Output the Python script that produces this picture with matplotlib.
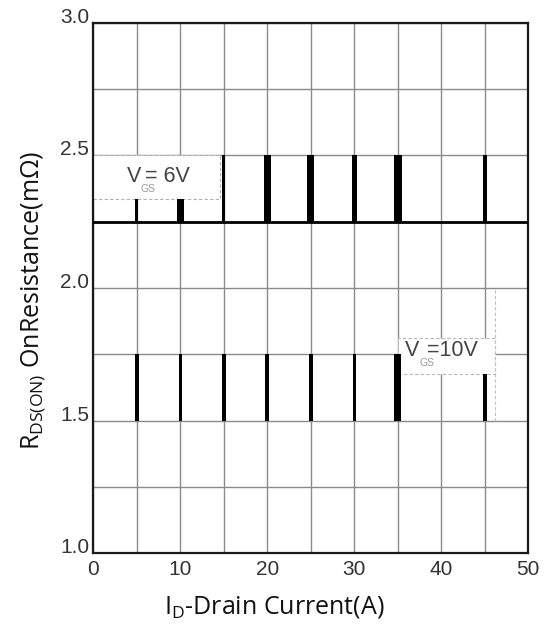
import matplotlib
matplotlib.use("Agg")
import matplotlib.pyplot as plt
from matplotlib.ticker import MultipleLocator, FixedLocator
from matplotlib.patches import Rectangle
import numpy as np

plt.rcParams['mathtext.fontset'] = 'custom'
plt.rcParams['mathtext.rm'] = 'Open Sans'
plt.rcParams['mathtext.it'] = 'Open Sans'

# ---------------- data ----------------
drain_current = [5, 10, 15, 20, 25, 30, 35, 45]          # A
r_vgs6_top = [2.335, 2.335, 2.5, 2.5, 2.5, 2.5, 2.5, 2.5]  # mOhm
r_vgs6_base = 2.25
r_vgs10_top = [1.75, 1.75, 1.75, 1.75, 1.75, 1.75, 1.75, 1.675]
r_vgs10_base = 1.5
x_tick_values = [0, 10, 20, 30, 40, 50]
x_tick_labels = ["0", "10", "20", "30", "40", "50"]
y_tick_values = [1.0, 1.5, 2.0, 2.5, 3.0]
y_tick_labels = ["1.0", "1.5", "2.0", "2.5", "3.0"]

# styles (bar thickness in data units)
w_vgs6 = [0.38, 0.85, 0.38, 0.87, 0.84, 0.64, 0.92, 0.42]
w_vgs10 = [0.45, 0.4, 0.4, 0.45, 0.42, 0.4, 0.84, 0.42]

W, H = 547, 625
fig = plt.figure(figsize=(W / 100, H / 100), dpi=100)
L, R, T, B = 93.3, 528.3, 22.7, 553.3
ax = fig.add_axes([L / W, 1 - B / H, (R - L) / W, (B - T) / H])

ax.set_xlim(0, 50)
ax.set_ylim(1.0, 3.0)
ax.xaxis.set_major_locator(FixedLocator(x_tick_values))
ax.set_xticklabels(x_tick_labels)
ax.xaxis.set_minor_locator(MultipleLocator(5))
ax.yaxis.set_major_locator(FixedLocator(y_tick_values))
ax.set_yticklabels(y_tick_labels)
ax.yaxis.set_minor_locator(MultipleLocator(0.25))
ax.set_axisbelow(True)
ax.grid(True, which='both', color='#8a8a8a', lw=1.0)
ax.tick_params(which='both', length=0)
ax.tick_params(axis='x', pad=4.5, labelsize=15, labelcolor='#333333')
ax.tick_params(axis='y', pad=3, labelsize=15, labelcolor='#333333')
for lbl in ax.get_xticklabels() + ax.get_yticklabels():
    lbl.set_fontfamily('Liberation Sans')
for t in ax.yaxis.get_major_ticks():
    t.label1.set_verticalalignment('baseline')

for s in ax.spines.values():
    s.set_color('#1a1a1a')
    s.set_linewidth(1.6)

# V_GS = 6V series
ax.bar(drain_current, np.array(r_vgs6_top) - r_vgs6_base, bottom=r_vgs6_base,
       width=w_vgs6, color='black', zorder=3)
ax.axhline(r_vgs6_base, color='black', lw=2.0, zorder=3)
# V_GS = 10V series
ax.bar(drain_current, np.array(r_vgs10_top) - r_vgs10_base, bottom=r_vgs10_base,
       width=w_vgs10, color='black', zorder=3)

# annotation boxes
ax.add_patch(Rectangle((0, 2.335), 14.6, 2.5 - 2.335, facecolor='white',
                       edgecolor='#b0b0b0', ls=(0, (3, 2)), lw=0.8, zorder=2))
ax.add_patch(Rectangle((35.07, 1.675), 11.13, 0.138, facecolor='white',
                       edgecolor='#b8b8b8', ls=(0, (3, 2)), lw=0.8, zorder=2))
ax.vlines(46.2, 1.5, 2.0, colors='#c0c0c0', linestyles=(0, (3, 2)), lw=0.8, zorder=2)

tkw = dict(fontfamily='Liberation Sans', fontsize=15.5, color='#444444', zorder=4)
skw = dict(fontfamily='Liberation Sans', fontsize=7.5, color='#9a9a9a', zorder=4)
ax.text(3.84, 2.400, 'V', ha='left', va='baseline', **tkw)
ax.text(5.94, 2.400, '= 6V', ha='left', va='baseline', **tkw)
ax.text(5.4, 2.374, 'GS', ha='left', va='center', **skw)
ax.text(35.8, 1.742, 'V', ha='left', va='baseline', **tkw)
ax.text(38.3, 1.742, '=10V', ha='left', va='baseline', **tkw)
ax.text(37.55, 1.718, 'GS', ha='left', va='center', **skw)

ax.set_xlabel(r'$\mathregular{I_D}$-Drain Current(A)', fontfamily='Open Sans',
              fontsize=18, color='#111111', va='baseline')
ax.set_ylabel(r'$\mathregular{R_{DS(ON)}}$ OnResistance(mΩ)', fontfamily='Open Sans',
              fontsize=18, color='#111111', va='baseline')
ax.xaxis.set_label_coords((274 - L) / (R - L), (B - 614) / (B - T))
ax.yaxis.set_label_coords((38 - L) / (R - L), (B - 300) / (B - T))

fig.savefig('out.png', dpi=100)
